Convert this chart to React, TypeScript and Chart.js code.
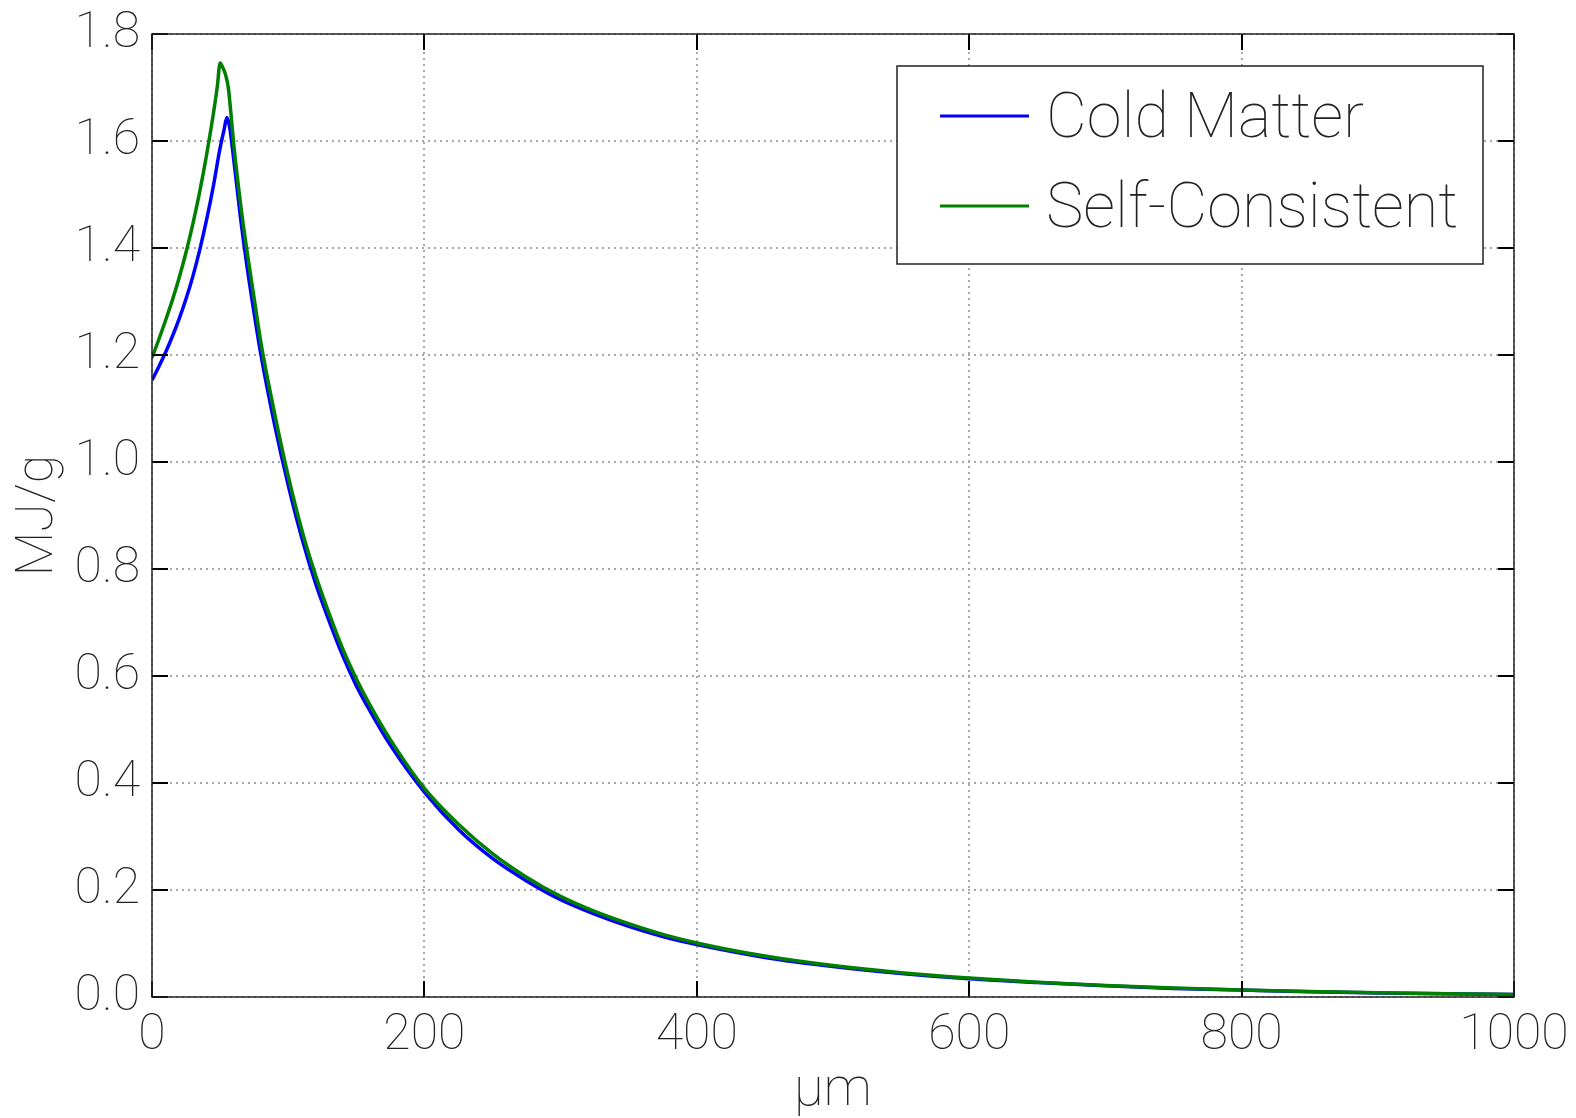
import { useEffect, useRef } from "react";
import { Chart, registerables } from "chart.js";

Chart.register(...registerables);

// Specific energy deposition profile (MJ/g) versus depth (μm)
const coldX = [0, 5, 10, 15, 20, 25, 30, 35, 40, 45, 50, 53, 55, 57, 60, 65, 70, 75, 80, 90, 100, 110, 120, 130, 140, 150, 160, 175, 200, 225, 250, 275, 300, 325, 350, 375, 400, 450, 500, 550, 600, 650, 700, 750, 800, 850, 900, 950, 1000];
const coldY = [1.153, 1.178, 1.205, 1.235, 1.268, 1.305, 1.347, 1.396, 1.452, 1.515, 1.587, 1.622, 1.644, 1.626, 1.566, 1.456, 1.361, 1.278, 1.2, 1.07, 0.957, 0.858, 0.774, 0.703, 0.638, 0.582, 0.535, 0.471, 0.383, 0.313, 0.259, 0.217, 0.182, 0.155, 0.132, 0.113, 0.098, 0.074, 0.057, 0.044, 0.034, 0.027, 0.021, 0.016, 0.013, 0.0098, 0.0077, 0.006, 0.0047];

const scX = [0, 5, 10, 15, 20, 25, 30, 35, 40, 45, 48, 50, 52, 54, 56, 58, 60, 65, 70, 75, 80, 90, 100, 110, 120, 130, 140, 150, 160, 175, 200, 225, 250, 275, 300, 325, 350, 375, 400, 450, 500, 550, 600, 650, 700, 750, 800, 850, 900, 950, 1000];
const scY = [1.195, 1.229, 1.265, 1.303, 1.345, 1.392, 1.445, 1.505, 1.573, 1.65, 1.703, 1.746, 1.737, 1.724, 1.7, 1.65, 1.594, 1.483, 1.39, 1.306, 1.223, 1.091, 0.974, 0.873, 0.789, 0.717, 0.651, 0.595, 0.546, 0.481, 0.39, 0.323, 0.268, 0.224, 0.188, 0.16, 0.137, 0.117, 0.101, 0.0765, 0.0587, 0.0454, 0.0354, 0.0276, 0.0215, 0.0168, 0.013, 0.0101, 0.008, 0.0062, 0.0049];

const seriesLabels = ["Cold Matter", "Self-Consistent"];
const seriesColors = ["#0000ff", "#008000"];

const xTitle = "μm";
const yTitle = "MJ/g";
const xMin = 0, xMax = 1000, xStep = 200;
const yMin = 0, yMax = 1.8, yStep = 0.2;

const FONT = "Roboto";
const WEIGHT = "100";
const TEXT = "#222222";

const toPoints = (xs: number[], ys: number[]) => xs.map((x, i) => ({ x, y: ys[i] }));

// Inward ticks on all four sides, the axes frame and a boxed legend
const framePlugin = {
  id: "frameAndLegend",
  afterDatasetsDraw(chart: any) {
    const { ctx, chartArea: a, scales } = chart;
    const tl = 16;
    ctx.save();
    ctx.strokeStyle = "#000";
    ctx.lineWidth = 2;
    ctx.beginPath();
    for (const t of scales.x.ticks) {
      const px = Math.round(scales.x.getPixelForValue(t.value));
      ctx.moveTo(px, a.bottom);
      ctx.lineTo(px, a.bottom - tl);
      ctx.moveTo(px, a.top);
      ctx.lineTo(px, a.top + tl);
    }
    for (const t of scales.y.ticks) {
      const py = Math.round(scales.y.getPixelForValue(t.value));
      ctx.moveTo(a.left, py);
      ctx.lineTo(a.left + tl, py);
      ctx.moveTo(a.right, py);
      ctx.lineTo(a.right - tl, py);
    }
    ctx.stroke();

    ctx.strokeStyle = "#222";
    ctx.lineWidth = 1.5;
    ctx.strokeRect(a.left, a.top, a.right - a.left, a.bottom - a.top);

    // legend
    const bw = 586, bh = 198;
    const bx = a.right - 31 - bw;
    const by = a.top + 32;
    ctx.fillStyle = "#fff";
    ctx.fillRect(bx, by, bw, bh);
    ctx.strokeStyle = "#222";
    ctx.lineWidth = 1.5;
    ctx.strokeRect(bx, by, bw, bh);
    ctx.font = `${WEIGHT} 63px ${FONT}`;
    ctx.textBaseline = "middle";
    ctx.textAlign = "left";
    chart.data.datasets.forEach((ds: any, i: number) => {
      const cy = by + 50 + i * 90;
      ctx.strokeStyle = ds.borderColor;
      ctx.lineWidth = 3;
      ctx.beginPath();
      ctx.moveTo(bx + 43, cy);
      ctx.lineTo(bx + 132, cy);
      ctx.stroke();
      ctx.fillStyle = "#222";
      ctx.fillText(ds.label, bx + 149, cy + 5);
    });
    ctx.restore();
  },
};

export default function App() {
  const ref = useRef<HTMLCanvasElement>(null);

  useEffect(() => {
    const canvas = ref.current;
    if (!canvas) return;
    const chart = new Chart(canvas, {
      type: "line",
      data: {
        datasets: [
          {
            label: seriesLabels[0],
            data: toPoints(coldX, coldY),
            borderColor: seriesColors[0],
            backgroundColor: seriesColors[0],
            borderWidth: 3.5,
            pointRadius: 0,
            cubicInterpolationMode: "monotone",
            order: 1,
          },
          {
            label: seriesLabels[1],
            data: toPoints(scX, scY),
            borderColor: seriesColors[1],
            backgroundColor: seriesColors[1],
            borderWidth: 3.5,
            pointRadius: 0,
            cubicInterpolationMode: "monotone",
            order: 0,
          },
        ],
      },
      options: {
        responsive: false,
        animation: false,
        devicePixelRatio: 1,
        layout: { padding: { top: 34, right: 62, left: 0, bottom: 0 } },
        plugins: {
          legend: { display: false },
          tooltip: { enabled: false },
        },
        scales: {
          x: {
            type: "linear",
            min: xMin,
            max: xMax,
            afterFit: (s: any) => {
              s.height = 121;
              s.paddingLeft = 0;
              s.paddingRight = 0;
            },
            ticks: {
              stepSize: xStep,
              autoSkip: false,
              maxRotation: 0,
              padding: 9,
              color: TEXT,
              font: { family: FONT, size: 50, weight: WEIGHT },
              callback: (v: any) => String(v),
            },
            grid: {
              color: "#a8a8a8",
              lineWidth: 2,
              drawTicks: false,
            },
            border: { display: false, dash: [2, 4] },
            title: {
              display: true,
              text: xTitle,
              color: TEXT,
              padding: { top: 0, bottom: 0 },
              font: { family: FONT, size: 54, weight: WEIGHT, lineHeight: 1 },
            },
          },
          y: {
            type: "linear",
            min: yMin,
            max: yMax,
            afterFit: (s: any) => {
              s.width = 152;
              s.paddingTop = 0;
              s.paddingBottom = 0;
            },
            ticks: {
              stepSize: yStep,
              autoSkip: false,
              padding: 12,
              labelOffset: 0,
              color: TEXT,
              font: { family: FONT, size: 50, weight: WEIGHT },
              callback: (v: any) => Number(v).toFixed(1),
            },
            grid: {
              color: "#a8a8a8",
              lineWidth: 2,
              drawTicks: false,
            },
            border: { display: false, dash: [2, 4] },
            title: {
              display: true,
              text: yTitle,
              color: TEXT,
              padding: { top: 13, bottom: 0 },
              font: { family: FONT, size: 52, weight: WEIGHT, lineHeight: 1 },
            },
          },
        },
      },
      plugins: [framePlugin],
    } as any);
    return () => chart.destroy();
  }, []);

  return (
    <div style={{ position: "absolute", left: 0, top: 0, width: 1576, height: 1118, background: "#fff" }}>
      <canvas ref={ref} width={1576} height={1118} style={{ display: "block", width: 1576, height: 1118 }} />
    </div>
  );
}
